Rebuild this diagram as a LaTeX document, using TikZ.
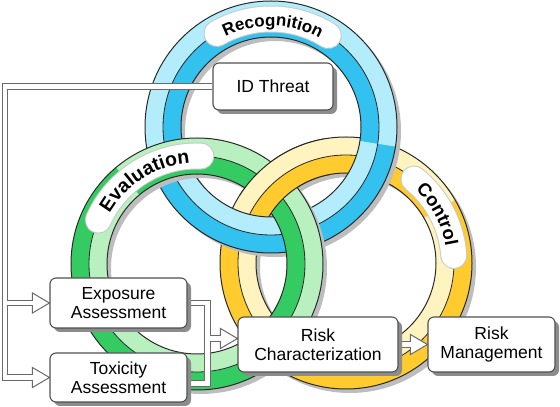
\documentclass[tikz,border=0pt]{standalone}
\usepackage{fontspec}
\setmainfont{Liberation Sans}
\usetikzlibrary{calc,decorations.text}
\definecolor{bluelight}{HTML}{B3EDFB}
\definecolor{bluedark}{HTML}{33C2EF}
\definecolor{greenlight}{HTML}{B9F0BF}
\definecolor{greendark}{HTML}{34CC62}
\definecolor{yellowlight}{HTML}{FFF4C0}
\definecolor{yellowdark}{HTML}{FFCB2E}
\definecolor{ringedgecol}{HTML}{2A2A2A}
\definecolor{ringshadow}{HTML}{BDBDBD}
\definecolor{boxline}{HTML}{505050}
\definecolor{boxshadow}{HTML}{8C8C8C}
\definecolor{pipecol}{HTML}{6A6A6A}
\definecolor{pillline}{HTML}{C9C9C9}
\pgfdeclarelayer{bg}
\pgfdeclarelayer{mid}
\pgfsetlayers{bg,mid,main}
\newcommand{\myboxfont}{\fontsize{17.5}{18.5}\selectfont}
\newcommand{\rsec}[7]{\fill[#7] ($(#1,#2)+(#3:#5pt)$) arc[start angle=#3,end angle=#4,radius=#5pt] -- ($(#1,#2)+(#4:#6pt)$) arc[start angle=#4,end angle=#3,radius=#6pt] -- cycle;}
\newcommand{\rlines}[2]{\draw[ringedge] (#1,#2) circle[radius=126pt] (#1,#2) circle[radius=90pt]; \draw[ringmid] (#1,#2) circle[radius=108pt];}
\newcommand{\rshadow}[2]{\fill[ringshadow,even odd rule] ($(#1,#2)+(4,-4)$) circle[radius=126pt] ($(#1,#2)+(4,-4)$) circle[radius=90pt];}
\newcommand{\mypill}[5]{\draw[line width=27pt,line cap=round,pillline] ($(#1,#2)+(#3:#5pt)$) arc[start angle=#3,end angle=#4,radius=#5pt]; \draw[line width=25pt,line cap=round,white] ($(#1,#2)+(#3:#5pt)$) arc[start angle=#3,end angle=#4,radius=#5pt];}
\newcommand{\arclabel}[7]{\path[decorate,decoration={text along path,text align=center,text={|\bfseries\fontsize{#7}{#7}\selectfont|#6}}] ($(#1,#2)+(#3:#5pt)$) arc[start angle=#3,end angle=#4,radius=#5pt];}
\newcommand{\ahead}[1]{\filldraw[arrowst] (#1) -- ++(-17,10) -- ++(0,-20) -- cycle;}
\newcommand{\mypipes}[1]{%
  \draw[#1] (idt.west) -- (idt.west -| L) -- (toxi.west -| L) -- ($(toxi.west)+(-15.5,0)$);
  \draw[#1] (expo.west -| L) -- ($(expo.west)+(-15.5,0)$);
  \draw[#1] (expo.east) -- (expo.east -| R) -- (tE -| R) -- (tE);
  \draw[#1] (rcin -| R) -- ($(rcin)+(-15.5,0)$);
  \draw[#1] (rc.east) -- ($(rm.west)+(-15.5,0)$);
}
\tikzset{
  ringedge/.style={draw=ringedgecol,line width=1pt},
  ringmid/.style={draw=ringedgecol,line width=0.8pt},
  boxst/.style={draw=boxline,line width=1.1pt,fill=white,rounded corners=6pt,align=center,font=\myboxfont,inner sep=0pt,
    preaction={fill=boxshadow,transform canvas={shift={(4pt,-4pt)}}}},
  pipeout/.style={draw=pipecol,line width=6.5pt,line join=miter},
  pipein/.style={draw=white,line width=4.5pt,line join=miter},
  arrowst/.style={fill=white,draw=pipecol,line width=1pt,line join=miter}
}
\begin{document}
\begin{tikzpicture}[x=1pt,y=1pt]
\useasboundingbox (0,0) rectangle (560,407);
% boxes
\node[boxst,minimum width=120pt,minimum height=47pt] (idt) at (273,320.5) {ID Threat};
\node[boxst,minimum width=137pt,minimum height=50pt] (expo) at (118.5,104) {Exposure\\Assessment};
\node[boxst,minimum width=137pt,minimum height=49pt] (toxi) at (118.5,29.5) {Toxicity\\Assessment};
\node[boxst,minimum width=160pt,minimum height=55pt] (rc) at (318,62.5) {Risk\\Characterization};
\node[boxst,minimum width=127pt,minimum height=55pt] (rm) at (491.5,62.5) {Risk\\Management};
\coordinate (L) at (5,0);
\coordinate (R) at (207.5,0);
\coordinate (tE) at ($(toxi.east)+(0,-6)$);
\coordinate (rcin) at ($(rc.west)+(0,6)$);
% rings
\begin{pgfonlayer}{bg}
% yellow
\rshadow{346}{144}
\rsec{346}{144}{30}{171}{126}{108}{yellowlight}
\rsec{346}{144}{30}{171}{108}{90}{yellowdark}
\rsec{346}{144}{171}{390}{126}{108}{yellowdark}
\rsec{346}{144}{171}{390}{108}{90}{yellowlight}
\rlines{346}{144}
% blue
\rshadow{271}{280}
\rsec{271}{280}{-9}{190}{126}{108}{bluelight}
\rsec{271}{280}{-9}{190}{108}{90}{bluedark}
\rsec{271}{280}{190}{351}{126}{108}{bluedark}
\rsec{271}{280}{190}{351}{108}{90}{bluelight}
\rlines{271}{280}
% green
\rshadow{197}{143}
\rsec{197}{143}{-45}{130}{126}{108}{greenlight}
\rsec{197}{143}{-45}{130}{108}{90}{greendark}
\rsec{197}{143}{130}{315}{126}{108}{greendark}
\rsec{197}{143}{130}{315}{108}{90}{greenlight}
\rlines{197}{143}
% yellow passes over green at the top
\rsec{346}{144}{100}{148}{126}{108}{yellowlight}
\rsec{346}{144}{100}{148}{108}{90}{yellowdark}
\draw[ringedge] ($(346,144)+(100:126pt)$) arc[start angle=100,end angle=148,radius=126pt];
\draw[ringedge] ($(346,144)+(100:90pt)$) arc[start angle=100,end angle=148,radius=90pt];
\draw[ringmid] ($(346,144)+(100:108pt)$) arc[start angle=100,end angle=148,radius=108pt];
% labels on rings
\mypill{271}{280}{120}{58}{108}
\arclabel{271}{280}{125}{53}{101}{Recognition}{17}
\mypill{197}{143}{156}{88}{108}
\arclabel{197}{143}{165}{79}{101}{Evaluation}{19.5}
\mypill{346}{144}{51}{4}{108}
\arclabel{346}{144}{72}{-16}{101}{Control}{18.5}
\end{pgfonlayer}
% connectors
\begin{pgfonlayer}{mid}
\mypipes{pipeout}
\ahead{expo.west}
\ahead{toxi.west}
\ahead{rcin}
\ahead{rm.west}
\mypipes{pipein}
\end{pgfonlayer}
\end{tikzpicture}
\end{document}
